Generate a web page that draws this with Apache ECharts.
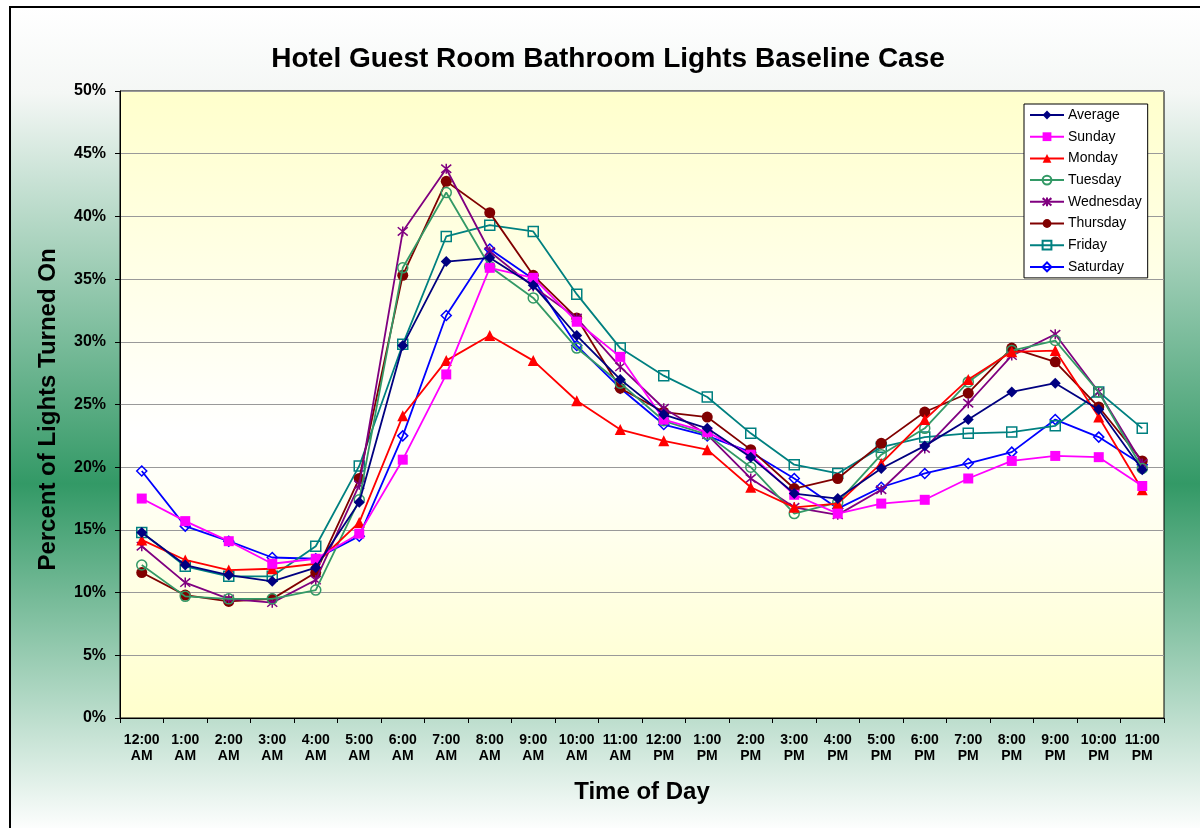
<!DOCTYPE html>
<html>
<head>
<meta charset="utf-8">
<script src="https://cdn.jsdelivr.net/npm/echarts@6/dist/echarts.min.js"></script>
<style>
  html, body { margin: 0; padding: 0; background: #ffffff; }
  #frame {
    position: absolute; left: 9px; top: 6px; width: 1220px; height: 850px;
    border-left: 2px solid #000; border-top: 2px solid #000;
    background: linear-gradient(to bottom, #ffffff 0%, #f4f7f5 10%, #339966 56%, #ffffff 97%);
  }
  #chart { position: absolute; left: 0; top: 0; width: 1200px; height: 828px; }
</style>
</head>
<body>
<div id="frame"></div>
<div id="chart"></div>
<script>
// Hour-of-day categories (two-line labels)
const hours = [
  '12:00\nAM', '1:00\nAM', '2:00\nAM', '3:00\nAM', '4:00\nAM', '5:00\nAM',
  '6:00\nAM', '7:00\nAM', '8:00\nAM', '9:00\nAM', '10:00\nAM', '11:00\nAM',
  '12:00\nPM', '1:00\nPM', '2:00\nPM', '3:00\nPM', '4:00\nPM', '5:00\nPM',
  '6:00\nPM', '7:00\nPM', '8:00\nPM', '9:00\nPM', '10:00\nPM', '11:00\nPM'
];

// Percent of bathroom lights turned on, per hour
const average   = [14.8, 12.2, 11.4, 10.9, 12.0, 17.2, 29.7, 36.4, 36.7, 34.5, 30.5, 27.0, 24.2, 23.1, 20.8, 17.9, 17.5, 19.9, 21.7, 23.8, 26.0, 26.7, 24.6, 19.8];
const sunday    = [17.5, 15.7, 14.1, 12.3, 12.7, 14.7, 20.6, 27.4, 35.9, 35.1, 31.6, 28.8, 23.8, 22.8, 21.0, 17.8, 16.3, 17.1, 17.4, 19.1, 20.5, 20.9, 20.8, 18.5];
const monday    = [14.2, 12.6, 11.8, 11.9, 12.3, 15.6, 24.1, 28.5, 30.5, 28.5, 25.3, 23.0, 22.1, 21.4, 18.4, 16.8, 17.1, 20.3, 23.8, 27.0, 29.2, 29.3, 24.0, 18.2];
const tuesday   = [12.2, 9.7, 9.5, 9.5, 10.2, 17.4, 35.9, 41.9, 36.0, 33.5, 29.5, 26.7, 23.7, 22.6, 20.0, 16.3, 17.2, 21.0, 23.1, 26.8, 29.3, 30.1, 26.0, 19.9];
const wednesday = [13.7, 10.8, 9.5, 9.2, 11.0, 18.6, 38.8, 43.8, 37.2, 34.4, 31.9, 28.0, 24.7, 22.6, 19.1, 16.8, 16.2, 18.2, 21.5, 25.1, 28.9, 30.6, 26.0, 20.3];
const thursday  = [11.6, 9.8, 9.3, 9.5, 11.6, 19.1, 35.3, 42.8, 40.3, 35.3, 31.9, 26.3, 24.4, 24.0, 21.4, 18.3, 19.1, 21.9, 24.4, 25.9, 29.5, 28.4, 24.8, 20.5];
const friday    = [14.8, 12.1, 11.3, 11.3, 13.7, 20.1, 29.8, 38.4, 39.3, 38.8, 33.8, 29.5, 27.3, 25.6, 22.7, 20.2, 19.5, 21.6, 22.4, 22.7, 22.8, 23.3, 26.0, 23.1];
const saturday  = [19.7, 15.3, 14.1, 12.8, 12.7, 14.5, 22.5, 32.1, 37.4, 35.0, 29.7, 26.3, 23.4, 22.5, 21.2, 19.1, 16.7, 18.4, 19.5, 20.3, 21.2, 23.8, 22.4, 20.2];

const seriesNames = ['Average', 'Sunday', 'Monday', 'Tuesday', 'Wednesday', 'Thursday', 'Friday', 'Saturday'];
const seriesData = [average, sunday, monday, tuesday, wednesday, thursday, friday, saturday];

// Y axis tick settings (percent)
const yMin = 0, yMax = 50, yStep = 5;

const FONT = 'Arial, "Liberation Sans", Helvetica, sans-serif';
const asterisk = 'path://M0,0L10,10M10,0L0,10M5,-1L5,11';

// Marker look for each series
const looks = [
  { color: '#000080', symbol: 'diamond', size: 11, filled: true },
  { color: '#FF00FF', symbol: 'rect', size: 10, filled: true },
  { color: '#FF0000', symbol: 'triangle', size: 11, filled: true },
  { color: '#339966', symbol: 'circle', size: 10, filled: false },
  { color: '#800080', symbol: asterisk, size: 10, filled: false },
  { color: '#800000', symbol: 'circle', size: 11, filled: true },
  { color: '#008080', symbol: 'rect', size: 10, filled: false },
  { color: '#0000FF', symbol: 'diamond', size: 10, filled: false }
];

const series = seriesNames.map((name, i) => {
  const lk = looks[i];
  return {
    name: name,
    type: 'line',
    data: seriesData[i],
    symbol: lk.symbol,
    symbolSize: lk.size,
    showAllSymbol: true,
    lineStyle: { color: lk.color, width: 1.8 },
    itemStyle: lk.filled
      ? { color: lk.color, borderColor: lk.color, borderWidth: 0 }
      : { color: 'rgba(0,0,0,0)', borderColor: lk.color, borderWidth: 1.5 },
    emphasis: { disabled: true },
    z: 10 - i
  };
});

const chart = echarts.init(document.getElementById('chart'), null, { renderer: 'canvas' });
chart.setOption({
  backgroundColor: 'transparent',
  animation: false,
  title: {
    text: 'Hotel Guest Room Bathroom Lights Baseline Case',
    left: 603,
    top: 40,
    textAlign: 'center',
    textStyle: { fontFamily: FONT, fontSize: 28, fontWeight: 'bold', color: '#000' }
  },
  grid: {
    left: 120, top: 91, right: 36, bottom: 110,
    show: true,
    borderColor: '#000', borderWidth: 1,
    backgroundColor: {
      type: 'linear', x: 0, y: 0, x2: 0, y2: 1,
      colorStops: [
        { offset: 0, color: '#FFFFCC' },
        { offset: 0.55, color: '#FFFFFF' },
        { offset: 1, color: '#FFFFCC' }
      ]
    }
  },
  legend: {
    orient: 'vertical',
    left: 1024, top: 104,
    padding: [4, 6, 4, 5],
    backgroundColor: '#ffffff',
    borderColor: '#000', borderWidth: 1,
    itemWidth: 34, itemHeight: 11, itemGap: 7.7,
    textStyle: { fontFamily: FONT, fontSize: 14, lineHeight: 14, color: '#000', padding: [0, 0, 0, -1] },
    data: seriesNames
  },
  xAxis: {
    type: 'category',
    data: hours,
    boundaryGap: true,
    name: 'Time of Day',
    nameLocation: 'middle',
    nameGap: 62,
    nameTextStyle: { fontFamily: FONT, fontSize: 24, fontWeight: 'bold', color: '#000' },
    axisLine: { lineStyle: { color: '#000', width: 1 } },
    axisTick: { show: true, length: 5, lineStyle: { color: '#000' } },
    axisLabel: {
      interval: 0, margin: 14,
      fontFamily: FONT, fontSize: 14, fontWeight: 'bold', color: '#000', lineHeight: 16
    },
    splitLine: { show: false }
  },
  yAxis: {
    type: 'value',
    min: yMin, max: yMax, interval: yStep,
    name: 'Percent of Lights Turned On',
    nameLocation: 'middle',
    nameRotate: 90,
    nameGap: 60,
    nameTextStyle: { fontFamily: FONT, fontSize: 24, fontWeight: 'bold', color: '#000', padding: [0, 10, 0, 0] },
    axisLine: { show: true, lineStyle: { color: '#000', width: 1 } },
    axisTick: { show: true, length: 5, lineStyle: { color: '#000' } },
    axisLabel: {
      margin: 14,
      formatter: '{value}%',
      fontFamily: FONT, fontSize: 16, fontWeight: 'bold', color: '#000'
    },
    splitLine: { show: true, lineStyle: { color: '#999999', width: 1 } }
  },
  series: series
});
</script>
</body>
</html>
